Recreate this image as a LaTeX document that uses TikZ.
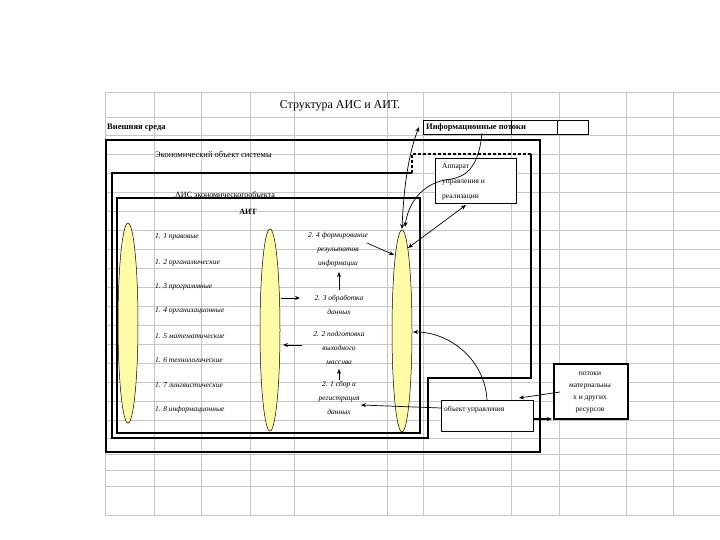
\documentclass[tikz,border=0pt]{standalone}
\usepackage{fontspec}
\setmainfont{Liberation Serif}
\usetikzlibrary{arrows.meta,shapes.geometric}
\begin{document}
\begin{tikzpicture}[x=1pt,y=-1pt,
  grid/.style={draw=gray!45,line width=0.8pt},
  thick box/.style={draw=black,line width=2pt},
  mid box/.style={draw=black,line width=1.5pt},
  thin box/.style={draw=black,line width=0.6pt,fill=white},
  ell/.style={draw=black,line width=0.5pt,fill=yellow!35},
  lab/.style={font=\fontsize{7.5}{8}\selectfont\itshape,inner sep=0pt},
  mlab/.style={font=\fontsize{7.5}{14}\selectfont\itshape,align=center,inner sep=0pt},
  txt/.style={font=\fontsize{8}{9}\selectfont,inner sep=0pt},
  arr/.style={-{Stealth[length=5pt,width=4pt]},line width=0.7pt}]
\useasboundingbox (0,0) rectangle (720,540);
% spreadsheet grid
\foreach \y in {92,117,135,154,173,192,211,230,249,268,287,306,325,344,363,382,401,420,438,454,470,486,515}
  \draw[grid] (105,\y) -- (720,\y);
\foreach \x in {105,154,201,250,294,387,423,511,559,626,673}
  \draw[grid] (\x,92) -- (\x,515);
% title and labels
\node[font=\fontsize{12}{13}\selectfont] (title) at (340,106) {Структура АИС и АИТ.};
\node[txt,font=\fontsize{8.5}{9}\selectfont\bfseries,anchor=west] (ext) at (107,128) {Внешняя среда};
\node[thin box,minimum width=165pt,minimum height=14pt,anchor=north west,inner sep=0pt] (inf) at (423,120) {};
\draw[line width=0.6pt] (511,120) -- (511,134) (557,120) -- (557,134);
\node[txt,font=\fontsize{8.5}{9}\selectfont\bfseries,anchor=west] (inft) at (426,127) {Информационные потоки};
% outer thick box
\draw[thick box] (106,140) rectangle (540,452);
\node[txt,font=\fontsize{8.5}{9}\selectfont,anchor=west] (eco) at (155,155) {Экономический объект системы};
% AIS polygon
\draw[mid box] (412,173) -- (112,173) -- (112,438) -- (428,438) -- (428,378) -- (531,378) -- (531,154);
\draw[mid box,dash pattern=on 3pt off 2pt] (531,154) -- (412,154) -- (412,173);
\node[txt,anchor=west] (ais) at (175,195) {АИС экономическогообъекта};
% AIT box
\draw[mid box] (117,198) rectangle (420,433);
\node[txt,font=\fontsize{8}{9}\selectfont\bfseries] (ait) at (248,212) {АИТ};
% ellipses
\node[ell,ellipse,minimum width=20pt,minimum height=200pt,inner sep=0pt] (e1) at (128,323) {};
\node[ell,ellipse,minimum width=20pt,minimum height=202pt,inner sep=0pt] (e2) at (270,330) {};
\node[ell,ellipse,minimum width=20pt,minimum height=202pt,inner sep=0pt] (e3) at (402,331) {};
% left labels
\node[lab,anchor=west] (l1) at (155,237) {1. 1 правовые};
\node[lab,anchor=west] (l2) at (155,263) {1. 2 органамические};
\node[lab,anchor=west] (l3) at (155,287) {1. 3 программные};
\node[lab,anchor=west] (l4) at (155,311) {1. 4 организационные};
\node[lab,anchor=west] (l5) at (155,336) {1. 5 математические};
\node[lab,anchor=west] (l6) at (155,360) {1. 6 технологические};
\node[lab,anchor=west] (l7) at (155,385) {1. 7 лингвистические};
\node[lab,anchor=west] (l8) at (155,410) {1. 8 информационные};
% middle labels
\node[mlab] (m4) at (338,250) {2. 4 формирование\\результатов\\информации};
\node[mlab] (m3) at (339,305) {2. 3 обработка\\данных};
\node[mlab] (m2) at (339,348) {2. 2 подготовка\\выходного\\массива};
\node[mlab] (m1) at (339,398) {2. 1 сбор и\\регистрация\\данных};
% right boxes
\node[thin box,minimum width=81pt,minimum height=45pt,inner sep=0pt,anchor=north west] (app) at (435,158) {};
\node[txt,align=left,anchor=north west,font=\fontsize{7.5}{15}\selectfont] (appt) at (442,163) {Аппарат\\управления и\\реализации};
\node[thin box,minimum width=92pt,minimum height=31pt,inner sep=0pt,anchor=north west] (obj) at (441,400) {};
\node[txt,font=\fontsize{7.5}{8}\selectfont,anchor=west] (objt) at (444,410) {объект управления};
\node[thick box,fill=white,minimum width=74pt,minimum height=55pt,inner sep=0pt,anchor=north west] (pot) at (553,363) {};
\node[txt,align=center,font=\fontsize{7.5}{12}\selectfont] (pott) at (590,393) {потоки\\материальны\\х и других\\ресурсов};
% arrows inside
\draw[arr] (281,298) -- (300,298);
\draw[arr] (302,345) -- (283,345);
\draw[arr] (339,290) -- (339,272);
\draw[arr] (339,380) -- (339,369);
\draw[arr] (367,243) -- (394,255);
\draw[arr] (441,408) -- (361,405);
\draw[arr] (487,400) .. controls (485,360) and (450,332) .. (413,332);
\draw[arr] (560,392) -- (519,398);
\draw[line width=1.2pt,-{Stealth[length=5pt,width=4pt]}] (533,419) -- (552,419);
% top arrows
\draw[{Stealth[length=5pt,width=4pt]}-{Stealth[length=5pt,width=4pt]},line width=0.7pt] (402,229) .. controls (404,180) and (410,150) .. (419,127);
\draw[arr] (482,133) .. controls (478,175) and (460,178) .. (445,180) .. controls (420,185) and (408,205) .. (405,227);
\draw[{Stealth[length=5pt,width=4pt]}-{Stealth[length=5pt,width=4pt]},line width=0.7pt] (408,248) -- (466,205);
\end{tikzpicture}
\end{document}
